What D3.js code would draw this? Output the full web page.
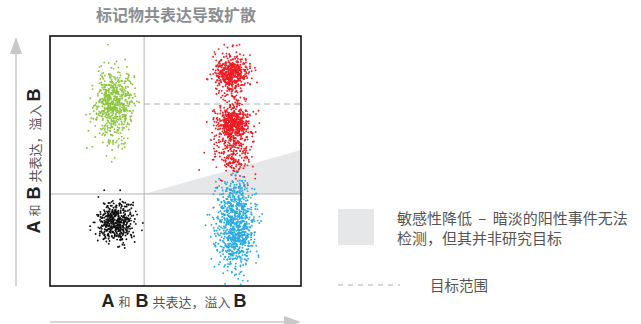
<!DOCTYPE html>
<html>
<head>
<meta charset="utf-8">
<script src="https://cdn.jsdelivr.net/npm/d3@7"></script>
<style>
  html, body { margin: 0; padding: 0; background: #fff; }
  svg { display: block; }
  text { font-family: "Noto Sans CJK SC", "Liberation Sans", sans-serif; }
</style>
</head>
<body>
<svg id="chart" width="641" height="324"></svg>
<script>
// Gate positions on the two fluorescence axes (0–100 arbitrary units)
const gateX = 37.5;
const gateY = 36.8;
const targetTop = 72.8;          // dashed upper limit of the target range
const wedgeRightY = 54.4;        // spread-induced sensitivity loss at the right edge

// Populations: name, centre, spread, event count, colour
const popNames   = ["A+B-", "A-B-", "A+B+ 上", "A+B+ 下", "A+B+ 尾", "A-B+", "A-B+ 尾"];
const popCx      = [25.1, 26.3, 72.4, 72.9, 73.0, 74.2, 74.0];
const popCy      = [72.4, 25.2, 84.8, 65.6, 55.0, 22.5, 35.0];
const popSdX     = [3.8, 3.5, 3.5, 3.0, 3.8, 3.7, 3.4];
const popSdY     = [7.0, 4.0, 4.2, 3.3, 6.0, 8.0, 4.5];
const popCount   = [620, 480, 480, 440, 300, 760, 130];
const popColor   = ["#8dc63f", "#111111", "#ed1c24", "#ed1c24", "#ed1c24", "#29abe2", "#29abe2"];

const titleText = "标记物共表达导致扩散";
const legendGrey = ["敏感性降低 – 暗淡的阳性事件无法", "检测，但其并非研究目标"];
const legendDash = "目标范围";

const svg = d3.select("#chart");
const x = d3.scaleLinear().domain([0, 100]).range([50, 301]);
const y = d3.scaleLinear().domain([0, 100]).range([286, 36]);

// title
svg.append("text")
  .attr("x", 176).attr("y", 21)
  .attr("text-anchor", "middle")
  .attr("font-size", 16).attr("font-weight", "bold")
  .attr("fill", "#8a8e92")
  .text(titleText);

// sensitivity-loss wedge
svg.append("path")
  .attr("d", d3.line()([
    [x(gateX), y(gateY)],
    [x(100), y(wedgeRightY)],
    [x(100), y(gateY)]
  ]) + "Z")
  .attr("fill", "#e6e7e8");

// gate lines
svg.append("line")
  .attr("x1", x(gateX)).attr("x2", x(gateX))
  .attr("y1", y(0)).attr("y2", y(100))
  .attr("stroke", "#b5b5b5").attr("stroke-width", 1);
svg.append("line")
  .attr("x1", x(0)).attr("x2", x(100))
  .attr("y1", y(gateY)).attr("y2", y(gateY))
  .attr("stroke", "#b5b5b5").attr("stroke-width", 1);
svg.append("line")
  .attr("x1", x(gateX)).attr("x2", x(100))
  .attr("y1", y(targetTop)).attr("y2", y(targetTop))
  .attr("stroke", "#b0b0b0").attr("stroke-width", 1)
  .attr("stroke-dasharray", "6,4");

// event clouds (seeded so the picture is stable)
const lcg = d3.randomLcg(0.4217);
const events = [];
popNames.forEach((name, i) => {
  const nx = d3.randomNormal.source(lcg)(popCx[i], popSdX[i]);
  const ny = d3.randomNormal.source(lcg)(popCy[i], popSdY[i]);
  for (let k = 0; k < popCount[i]; k++) {
    events.push({ x: nx(), y: ny(), c: popColor[i] });
  }
});
svg.append("g")
  .selectAll("circle")
  .data(events.filter(d => d.x > 0.5 && d.x < 99.5 && d.y > 0.5 && d.y < 99.5))
  .join("circle")
  .attr("cx", d => x(d.x))
  .attr("cy", d => y(d.y))
  .attr("r", 0.95)
  .attr("fill", d => d.c);

// plot frame
svg.append("rect")
  .attr("x", x(0)).attr("y", y(100))
  .attr("width", x(100) - x(0)).attr("height", y(0) - y(100))
  .attr("fill", "none").attr("stroke", "#111").attr("stroke-width", 1.6);

// axis titles
function axisLabel(g) {
  g.append("tspan").attr("font-family", "Liberation Sans, Arial, sans-serif")
    .attr("font-weight", "bold").attr("font-size", 18).attr("fill", "#222").text("A");
  g.append("tspan").attr("font-size", 12).attr("fill", "#555").attr("dx", 4).text("和");
  g.append("tspan").attr("font-family", "Liberation Sans, Arial, sans-serif")
    .attr("font-weight", "bold").attr("font-size", 18).attr("fill", "#222").attr("dx", 5).text("B");
  g.append("tspan").attr("font-size", 13).attr("fill", "#555").attr("dx", 4).text("共表达，溢入");
  g.append("tspan").attr("font-family", "Liberation Sans, Arial, sans-serif")
    .attr("font-weight", "bold").attr("font-size", 18).attr("fill", "#222").attr("dx", 3).text("B");
}
axisLabel(svg.append("text").attr("x", 174).attr("y", 307).attr("text-anchor", "middle"));
axisLabel(svg.append("text").attr("text-anchor", "middle")
  .attr("transform", "translate(40,161) rotate(-90)"));

// direction arrows
const arrowGrey = "#c8c8c8";
svg.append("line").attr("x1", 50).attr("x2", 286).attr("y1", 322).attr("y2", 322)
  .attr("stroke", arrowGrey).attr("stroke-width", 1.5);
svg.append("path").attr("d", "M284,316 L301,322 L284,328 Z").attr("fill", arrowGrey);
svg.append("line").attr("x1", 16).attr("x2", 16).attr("y1", 286).attr("y2", 52)
  .attr("stroke", arrowGrey).attr("stroke-width", 1.5);
svg.append("path").attr("d", "M10,54 L16,37 L22,54 Z").attr("fill", arrowGrey);

// legend
svg.append("rect").attr("x", 338).attr("y", 209).attr("width", 36).attr("height", 36)
  .attr("fill", "#e6e7e8");
svg.append("g").selectAll("text").data(legendGrey).join("text")
  .attr("x", 397).attr("y", (d, i) => 224 + i * 20)
  .attr("font-size", 15).attr("fill", "#555")
  .attr("word-spacing", (d, i) => i ? 0 : 3)
  .text(d => d);
svg.append("line").attr("x1", 338).attr("x2", 400).attr("y1", 285).attr("y2", 285)
  .attr("stroke", "#b0b0b0").attr("stroke-width", 1).attr("stroke-dasharray", "5,5");
svg.append("text").attr("x", 430).attr("y", 291)
  .attr("font-size", 14.5).attr("fill", "#555").text(legendDash);
</script>
</body>
</html>
